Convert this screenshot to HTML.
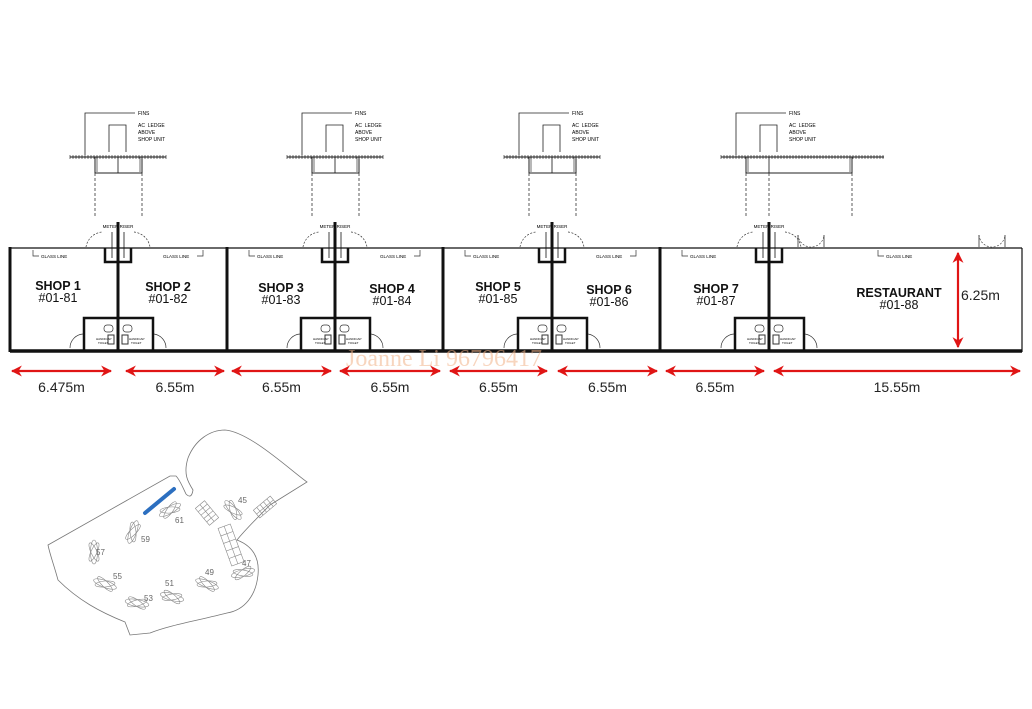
<!DOCTYPE html>
<html><head><meta charset="utf-8"><style>
html,body{margin:0;padding:0;background:#fff;width:1032px;height:709px;overflow:hidden}
svg{display:block}
text{font-family:"Liberation Sans",sans-serif}
</style></head><body>
<svg id="s" width="1032" height="709" viewBox="0 0 1032 709" xmlns="http://www.w3.org/2000/svg">
<defs>
<marker id="ah" viewBox="0 0 10 10" refX="9" refY="5" markerWidth="5" markerHeight="5" orient="auto-start-reverse"><path d="M0,0 L10,5 L0,10 L3,5 z" fill="#e01515"/></marker>
</defs>
<g id="g"></g>
</svg>
<script>
var g=document.getElementById('g'),h='';
function L(x1,y1,x2,y2,w,c,d){h+='<line x1="'+x1+'" y1="'+y1+'" x2="'+x2+'" y2="'+y2+'" stroke="'+(c||'#111')+'" stroke-width="'+(w||1)+'"'+(d?' stroke-dasharray="'+d+'"':'')+'/>';}
function T(x,y,s,t,extra){h+='<text x="'+x+'" y="'+y+'" font-size="'+s+'" '+(extra||'')+'>'+t+'</text>';}
L(10,248,1022,248,1.2);
L(10,351,1022,351,3.5);
L(10,247,10,352,3);L(1022,248,1022,352,1.2);
[227,443,660].forEach(function(x){L(x,247,x,352,3);});
var centers=[118,335,552,769];
centers.forEach(function(c,i){
  L(c,222,c,351,3);
  h+='<path d="M'+(c-13)+',248 V262 H'+(c+13)+' V248" fill="none" stroke="#111" stroke-width="2.5"/>';
  L(c-6,232,c-6,258,0.8);L(c+6,232,c+6,258,0.8);
  T(c,228,4.5,'METER RISER','text-anchor="middle"');
  h+='<path d="M'+(c-32)+',247 A18,18 0 0 1 '+(c-16)+',232" fill="none" stroke="#333" stroke-width="0.7" stroke-dasharray="2,1.5"/>';
  h+='<path d="M'+(c+16)+',232 A18,18 0 0 1 '+(c+32)+',247" fill="none" stroke="#333" stroke-width="0.7" stroke-dasharray="2,1.5"/>';
  h+='<path d="M'+(c-34)+',351 V318 H'+(c+35)+' V351" fill="none" stroke="#111" stroke-width="2.5"/>';
  h+='<rect x="'+(c-14)+'" y="325" width="9" height="7" rx="3" fill="none" stroke="#333" stroke-width="0.7"/>';
  h+='<rect x="'+(c+5)+'" y="325" width="9" height="7" rx="3" fill="none" stroke="#333" stroke-width="0.7"/>';
  h+='<rect x="'+(c-10)+'" y="335" width="6" height="9" fill="none" stroke="#333" stroke-width="1"/>';
  h+='<rect x="'+(c+4)+'" y="335" width="6" height="9" fill="none" stroke="#333" stroke-width="1"/>';
  T(c-22,340,3,'HANDICAP');T(c-20,344,3,'TOILET');
  T(c+11,340,3,'HANDICAP');T(c+13,344,3,'TOILET');
  h+='<path d="M'+(c-48)+',348 A14,14 0 0 1 '+(c-35)+',334" fill="none" stroke="#333" stroke-width="0.7"/>';
  h+='<path d="M'+(c+36)+',334 A14,14 0 0 1 '+(c+48)+',348" fill="none" stroke="#333" stroke-width="0.7"/>';
  var bx1=c-23,bx2=(i==3?c+83:c+24);
  var hx1=c-48,hx2=(i==3?c+115:c+48);
  L(hx1,157,hx2,157,1);
  for(var x=hx1;x<=hx2;x+=3)L(x,155,x,159,0.6);
  h+='<path d="M'+bx1+',157 V173 H'+bx2+' V157" fill="none" stroke="#222" stroke-width="1"/>';
  L(bx1+2,157,bx1+2,172,0.6);L(bx2-2,157,bx2-2,172,0.6);
  L(c,157,c,173,0.8);
  L(bx1,173,bx1,218,0.8,'#333','3,2');L(bx2,173,bx2,218,0.8,'#333','3,2');
  if(i==3)L(c,173,c,218,0.8,'#333','3,2');
  h+='<path d="M'+(c-33)+',155 V113 H'+(c+17)+'" fill="none" stroke="#222" stroke-width="0.8"/>';
  h+='<path d="M'+(c-9)+',152 V125 H'+(c+8)+' V152" fill="none" stroke="#222" stroke-width="0.8"/>';
  T(c+20,115,5,'FINS');T(c+20,127,5,'AC&#160;&#160;LEDGE');T(c+20,134,5,'ABOVE');T(c+20,141,5,'SHOP UNIT');
});
[[33],[249],[465],[682],[878]].forEach(function(a){
 h+='<path d="M'+a[0]+',250 V256 H'+(a[0]+6)+'" fill="none" stroke="#333" stroke-width="0.7"/>';
 T(a[0]+8,258,4.5,'GLASS LINE');});
[[203,163],[420,380],[636,596]].forEach(function(a){
 h+='<path d="M'+a[0]+',250 V256 H'+(a[0]-6)+'" fill="none" stroke="#333" stroke-width="0.7"/>';
 T(a[1],258,4.5,'GLASS LINE');});
[[798,824],[979,1005]].forEach(function(d){
 h+='<path d="M'+d[0]+',247 V235 M'+d[1]+',247 V235" stroke="#333" stroke-width="0.8"/>';
 h+='<path d="M'+d[0]+',235 A13,13 0 0 0 '+((d[0]+d[1])/2)+',247 A13,13 0 0 0 '+d[1]+',235" fill="none" stroke="#333" stroke-width="0.6" stroke-dasharray="2,1.5"/>';});
var L2=[[58,290,'SHOP 1','#01-81'],[168,291,'SHOP 2','#01-82'],[281,292,'SHOP 3','#01-83'],[392,293,'SHOP 4','#01-84'],[498,291,'SHOP 5','#01-85'],[609,294,'SHOP 6','#01-86'],[716,293,'SHOP 7','#01-87'],[899,297,'RESTAURANT','#01-88']];
L2.forEach(function(a){T(a[0],a[1],12.5,a[2],'text-anchor="middle" font-weight="bold" fill="#111"');T(a[0],a[1]+12,12.5,a[3],'text-anchor="middle" fill="#111"');});
h+='<text x="346" y="366" font-size="24" fill="#f2b48a" opacity="0.55" style="font-family:\'Liberation Serif\',serif">Joanne Li 96796417</text>';
var R='#e01515';
[[12,111,'6.475m'],[126,224,'6.55m'],[232,331,'6.55m'],[340,440,'6.55m'],[450,547,'6.55m'],[558,657,'6.55m'],[666,764,'6.55m'],[774,1020,'15.55m']].forEach(function(a){
 h+='<line x1="'+a[0]+'" y1="371" x2="'+a[1]+'" y2="371" stroke="'+R+'" stroke-width="2.2" marker-start="url(#ah)" marker-end="url(#ah)"/>';
 T((a[0]+a[1])/2,392,14,a[2],'text-anchor="middle" fill="#222"');});
h+='<line x1="958" y1="253" x2="958" y2="347" stroke="'+R+'" stroke-width="2.2" marker-start="url(#ah)" marker-end="url(#ah)"/>';
T(961,300,14,'6.25m','fill="#222"');
h+='<path d="M48,545 L170,476 L176,476 C180,480 183,488 186,494 C190,498 192,496 193,490 C188,482 183,474 188,458 C195,440 210,430 225,430 C250,432 290,470 307,482 L270,505 C255,520 245,530 237,540 C250,545 260,555 258,575 C256,595 245,610 227,613 C200,620 170,625 150,633 L130,635 L125,622 C100,612 78,600 58,580 C54,565 50,555 48,545 Z" fill="none" stroke="#777" stroke-width="0.8"/>';
h+='<line x1="145" y1="513" x2="174" y2="489" stroke="#2c6fc0" stroke-width="4" stroke-linecap="round"/>';
function cl(x,y,r){h+='<g transform="translate('+x+','+y+') rotate('+r+')" fill="none" stroke="#888" stroke-width="0.6"><ellipse rx="12" ry="3.5"/><ellipse rx="10" ry="3" transform="rotate(25)"/><ellipse rx="10" ry="3" transform="rotate(-25)"/></g>';}
[[170,510,-30],[133,532,-70],[94,552,-90],[105,584,20],[137,603,10],[172,597,15],[207,584,20],[243,573,-15],[233,510,50]].forEach(function(a){cl(a[0],a[1],a[2]);});
function grid(x,y,w,hh,r){h+='<g transform="translate('+x+','+y+') rotate('+r+')" fill="none" stroke="#888" stroke-width="0.6"><rect x="'+(-w/2)+'" y="'+(-hh/2)+'" width="'+w+'" height="'+hh+'"/><line x1="0" y1="'+(-hh/2)+'" x2="0" y2="'+(hh/2)+'"/>';for(var k=1;k<5;k++){var yy=-hh/2+k*hh/5;h+='<line x1="'+(-w/2)+'" y1="'+yy+'" x2="'+(w/2)+'" y2="'+yy+'"/>';}h+='</g>';}
grid(207,513,12,22,-40);grid(231,545,13,40,-20);grid(265,507,10,22,50);
[[175,523,'61'],[141,542,'59'],[96,555,'57'],[113,579,'55'],[144,601,'53'],[165,586,'51'],[205,575,'49'],[242,566,'47'],[238,503,'45']].forEach(function(a){T(a[0],a[1],8,a[2],'fill="#666"');});
g.innerHTML=h;
</script>
</body></html>
